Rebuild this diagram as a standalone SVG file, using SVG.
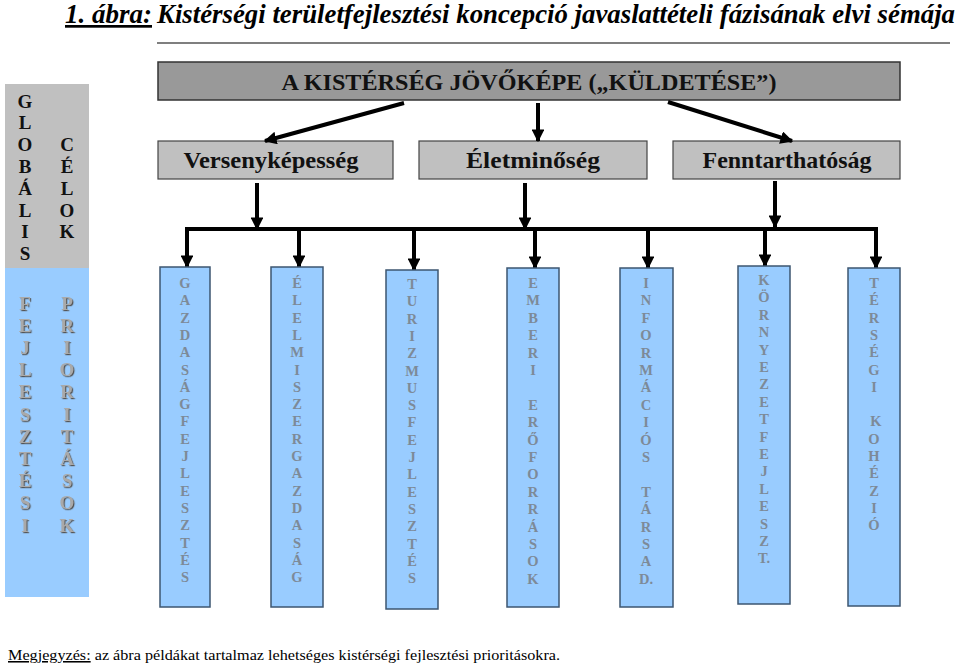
<svg xmlns="http://www.w3.org/2000/svg" width="960" height="663" viewBox="0 0 960 663">
<style>
.ser{font-family:"Liberation Serif","Times New Roman","DejaVu Serif","Noto Serif",serif}
.hdr{font-family:"Liberation Serif","Times New Roman","DejaVu Serif",serif;font-weight:bold;font-size:24px;fill:#111;text-anchor:middle}
.vb{fill:#99ccff;stroke:#3d5670;stroke-width:1.5}
.vt{font-family:"Liberation Serif","Times New Roman","DejaVu Serif",serif;font-weight:bold;font-size:14.5px;fill:#7d8a98;text-anchor:middle}
.lp{font-family:"Liberation Serif","Times New Roman","DejaVu Serif",serif;font-weight:bold;font-size:19px;text-anchor:middle}
.conn{stroke:#000;stroke-width:4;fill:none}
</style>
<defs>
<marker id="ah" viewBox="0 0 10 10" refX="9" refY="5" markerWidth="3.2" markerHeight="3.2" orient="auto" markerUnits="strokeWidth">
<path d="M0,0 L10,5 L0,10 z" fill="#000"/>
</marker>
<filter id="emb" x="-20%" y="-20%" width="140%" height="140%">
<feDropShadow dx="1.2" dy="1.2" stdDeviation="0.4" flood-color="#555"/>
</filter>
</defs>
<rect width="960" height="663" fill="#fff"/>

<g id="title">
<text class="ser" x="65" y="23" font-size="27" font-weight="bold" font-style="italic" textLength="87" lengthAdjust="spacingAndGlyphs" text-decoration="underline">1. ábra:</text>
<text class="ser" x="157" y="23" font-size="27" font-weight="bold" font-style="italic" textLength="798" lengthAdjust="spacingAndGlyphs">Kistérségi területfejlesztési koncepció javaslattételi fázisának elvi sémája</text>
<line x1="157" y1="43" x2="950" y2="43" stroke="#555" stroke-width="1.5"/>
</g>

<g id="leftpanel">
<rect x="5" y="84" width="84" height="184" fill="#c0c0c0"/>
<rect x="5" y="268" width="84" height="329" fill="#99ccff"/>
<text class="lp" fill="#111"><tspan x="25" y="107.5">G</tspan><tspan x="25" dy="21.8">L</tspan><tspan x="25" dy="21.8">O</tspan><tspan x="25" dy="21.8">B</tspan><tspan x="25" dy="21.8">Á</tspan><tspan x="25" dy="21.8">L</tspan><tspan x="25" dy="21.8">I</tspan><tspan x="25" dy="21.8">S</tspan></text>
<text class="lp" fill="#111"><tspan x="67" y="151.1">C</tspan><tspan x="67" dy="21.8">É</tspan><tspan x="67" dy="21.8">L</tspan><tspan x="67" dy="21.8">O</tspan><tspan x="67" dy="21.8">K</tspan></text>
<text class="lp" fill="#a9a9a9" filter="url(#emb)"><tspan x="25" y="309.5">F</tspan><tspan x="25" dy="22.2">E</tspan><tspan x="25" dy="22.2">J</tspan><tspan x="25" dy="22.2">L</tspan><tspan x="25" dy="22.2">E</tspan><tspan x="25" dy="22.2">S</tspan><tspan x="25" dy="22.2">Z</tspan><tspan x="25" dy="22.2">T</tspan><tspan x="25" dy="22.2">É</tspan><tspan x="25" dy="22.2">S</tspan><tspan x="25" dy="22.2">I</tspan></text>
<text class="lp" fill="#a9a9a9" filter="url(#emb)"><tspan x="67" y="309.5">P</tspan><tspan x="67" dy="22.2">R</tspan><tspan x="67" dy="22.2">I</tspan><tspan x="67" dy="22.2">O</tspan><tspan x="67" dy="22.2">R</tspan><tspan x="67" dy="22.2">I</tspan><tspan x="67" dy="22.2">T</tspan><tspan x="67" dy="22.2">Á</tspan><tspan x="67" dy="22.2">S</tspan><tspan x="67" dy="22.2">O</tspan><tspan x="67" dy="22.2">K</tspan></text>
</g>

<g id="jovokep">
<rect x="158" y="62" width="742" height="38" fill="#999999" stroke="#333" stroke-width="1.5"/>
<text class="hdr" x="529" y="90" textLength="495" lengthAdjust="spacingAndGlyphs">A KISTÉRSÉG JÖVŐKÉPE („KÜLDETÉSE”)</text>
</g>

<g id="versenykepesseg">
<rect x="158" y="141" width="235" height="38" fill="#c0c0c0" stroke="#444" stroke-width="1.2"/>
<text class="hdr" x="271" y="168" textLength="175" lengthAdjust="spacingAndGlyphs">Versenyképesség</text>
</g>
<g id="eletminoseg">
<rect x="419" y="141" width="228" height="38" fill="#c0c0c0" stroke="#444" stroke-width="1.2"/>
<text class="hdr" x="533" y="168" textLength="134" lengthAdjust="spacingAndGlyphs">Életminőség</text>
</g>
<g id="fenntarthatosag">
<rect x="673" y="141" width="227" height="38" fill="#c0c0c0" stroke="#444" stroke-width="1.2"/>
<text class="hdr" x="787" y="168" textLength="169" lengthAdjust="spacingAndGlyphs">Fenntarthatóság</text>
</g>

<g id="connectors">
<line class="conn" x1="404" y1="103" x2="265" y2="141" marker-end="url(#ah)"/>
<line class="conn" x1="538" y1="103" x2="538" y2="141" marker-end="url(#ah)"/>
<line class="conn" x1="668" y1="102" x2="792" y2="141" marker-end="url(#ah)"/>
<line class="conn" x1="257" y1="183" x2="257" y2="229" marker-end="url(#ah)"/>
<line class="conn" x1="525" y1="183" x2="525" y2="229" marker-end="url(#ah)"/>
<line class="conn" x1="775" y1="181" x2="775" y2="227" marker-end="url(#ah)"/>
<polyline class="conn" points="187,268 187,229 876,229 876,268" marker-end="url(#ah)"/>
<line class="conn" x1="187" y1="229" x2="187" y2="267" marker-end="url(#ah)"/>
<line class="conn" x1="299" y1="229" x2="299" y2="267" marker-end="url(#ah)"/>
<line class="conn" x1="414" y1="229" x2="414" y2="270" marker-end="url(#ah)"/>
<line class="conn" x1="535" y1="229" x2="535" y2="268" marker-end="url(#ah)"/>
<line class="conn" x1="648" y1="229" x2="648" y2="268" marker-end="url(#ah)"/>
<line class="conn" x1="765" y1="229" x2="765" y2="266" marker-end="url(#ah)"/>
</g>

<g id="gazdasagfejlesztes">
<rect class="vb" x="160" y="267" width="50" height="340"/>
<text class="vt"><tspan x="185" y="288">G</tspan><tspan x="185" dy="17.3">A</tspan><tspan x="185" dy="17.3">Z</tspan><tspan x="185" dy="17.3">D</tspan><tspan x="185" dy="17.3">A</tspan><tspan x="185" dy="17.3">S</tspan><tspan x="185" dy="17.3">Á</tspan><tspan x="185" dy="17.3">G</tspan><tspan x="185" dy="17.3">F</tspan><tspan x="185" dy="17.3">E</tspan><tspan x="185" dy="17.3">J</tspan><tspan x="185" dy="17.3">L</tspan><tspan x="185" dy="17.3">E</tspan><tspan x="185" dy="17.3">S</tspan><tspan x="185" dy="17.3">Z</tspan><tspan x="185" dy="17.3">T</tspan><tspan x="185" dy="17.3">É</tspan><tspan x="185" dy="17.3">S</tspan></text>
</g>
<g id="elelmiszergazdasag">
<rect class="vb" x="271" y="267" width="52" height="340"/>
<text class="vt"><tspan x="297" y="288">É</tspan><tspan x="297" dy="17.3">L</tspan><tspan x="297" dy="17.3">E</tspan><tspan x="297" dy="17.3">L</tspan><tspan x="297" dy="17.3">M</tspan><tspan x="297" dy="17.3">I</tspan><tspan x="297" dy="17.3">S</tspan><tspan x="297" dy="17.3">Z</tspan><tspan x="297" dy="17.3">E</tspan><tspan x="297" dy="17.3">R</tspan><tspan x="297" dy="17.3">G</tspan><tspan x="297" dy="17.3">A</tspan><tspan x="297" dy="17.3">Z</tspan><tspan x="297" dy="17.3">D</tspan><tspan x="297" dy="17.3">A</tspan><tspan x="297" dy="17.3">S</tspan><tspan x="297" dy="17.3">Á</tspan><tspan x="297" dy="17.3">G</tspan></text>
</g>
<g id="turizmusfejlesztes">
<rect class="vb" x="386" y="270" width="52" height="339"/>
<text class="vt"><tspan x="412" y="289">T</tspan><tspan x="412" dy="17.3">U</tspan><tspan x="412" dy="17.3">R</tspan><tspan x="412" dy="17.3">I</tspan><tspan x="412" dy="17.3">Z</tspan><tspan x="412" dy="17.3">M</tspan><tspan x="412" dy="17.3">U</tspan><tspan x="412" dy="17.3">S</tspan><tspan x="412" dy="17.3">F</tspan><tspan x="412" dy="17.3">E</tspan><tspan x="412" dy="17.3">J</tspan><tspan x="412" dy="17.3">L</tspan><tspan x="412" dy="17.3">E</tspan><tspan x="412" dy="17.3">S</tspan><tspan x="412" dy="17.3">Z</tspan><tspan x="412" dy="17.3">T</tspan><tspan x="412" dy="17.3">É</tspan><tspan x="412" dy="17.3">S</tspan></text>
</g>
<g id="emberieroforrasok">
<rect class="vb" x="507" y="268" width="52" height="339"/>
<text class="vt"><tspan x="533" y="288">E</tspan><tspan x="533" dy="17.4">M</tspan><tspan x="533" dy="17.4">B</tspan><tspan x="533" dy="17.4">E</tspan><tspan x="533" dy="17.4">R</tspan><tspan x="533" dy="17.4">I</tspan><tspan x="533" dy="34.8">E</tspan><tspan x="533" dy="17.4">R</tspan><tspan x="533" dy="17.4">Ő</tspan><tspan x="533" dy="17.4">F</tspan><tspan x="533" dy="17.4">O</tspan><tspan x="533" dy="17.4">R</tspan><tspan x="533" dy="17.4">R</tspan><tspan x="533" dy="17.4">Á</tspan><tspan x="533" dy="17.4">S</tspan><tspan x="533" dy="17.4">O</tspan><tspan x="533" dy="17.4">K</tspan></text>
</g>
<g id="informaciostarsadalom">
<rect class="vb" x="620" y="268" width="53" height="339"/>
<text class="vt"><tspan x="646" y="288">I</tspan><tspan x="646" dy="17.4">N</tspan><tspan x="646" dy="17.4">F</tspan><tspan x="646" dy="17.4">O</tspan><tspan x="646" dy="17.4">R</tspan><tspan x="646" dy="17.4">M</tspan><tspan x="646" dy="17.4">Á</tspan><tspan x="646" dy="17.4">C</tspan><tspan x="646" dy="17.4">I</tspan><tspan x="646" dy="17.4">Ó</tspan><tspan x="646" dy="17.4">S</tspan><tspan x="646" dy="34.8">T</tspan><tspan x="646" dy="17.4">Á</tspan><tspan x="646" dy="17.4">R</tspan><tspan x="646" dy="17.4">S</tspan><tspan x="646" dy="17.4">A</tspan><tspan x="646" dy="17.4">D.</tspan></text>
</g>
<g id="kornyezetfejlesztes">
<rect class="vb" x="738" y="266" width="52" height="338"/>
<text class="vt"><tspan x="764" y="285">K</tspan><tspan x="764" dy="17.4">Ö</tspan><tspan x="764" dy="17.4">R</tspan><tspan x="764" dy="17.4">N</tspan><tspan x="764" dy="17.4">Y</tspan><tspan x="764" dy="17.4">E</tspan><tspan x="764" dy="17.4">Z</tspan><tspan x="764" dy="17.4">E</tspan><tspan x="764" dy="17.4">T</tspan><tspan x="764" dy="17.4">F</tspan><tspan x="764" dy="17.4">E</tspan><tspan x="764" dy="17.4">J</tspan><tspan x="764" dy="17.4">L</tspan><tspan x="764" dy="17.4">E</tspan><tspan x="764" dy="17.4">S</tspan><tspan x="764" dy="17.4">Z</tspan><tspan x="764" dy="17.4">T.</tspan></text>
</g>
<g id="tersegikohezio">
<rect class="vb" x="848" y="268" width="52" height="338"/>
<text class="vt"><tspan x="874" y="288">T</tspan><tspan x="874" dy="17.3">É</tspan><tspan x="874" dy="17.3">R</tspan><tspan x="874" dy="17.3">S</tspan><tspan x="874" dy="17.3">É</tspan><tspan x="874" dy="17.3">G</tspan><tspan x="874" dy="17.3">I</tspan><tspan x="876" dy="34.6">K</tspan><tspan x="874" dy="17.3">O</tspan><tspan x="874" dy="17.3">H</tspan><tspan x="874" dy="17.3">É</tspan><tspan x="874" dy="17.3">Z</tspan><tspan x="874" dy="17.3">I</tspan><tspan x="874" dy="17.3">Ó</tspan></text>
</g>

<g id="note">
<text class="ser" x="8" y="660" font-size="15.5" textLength="552" lengthAdjust="spacingAndGlyphs"><tspan text-decoration="underline">Megjegyzés:</tspan> az ábra példákat tartalmaz lehetséges kistérségi fejlesztési prioritásokra.</text>
</g>
</svg>
